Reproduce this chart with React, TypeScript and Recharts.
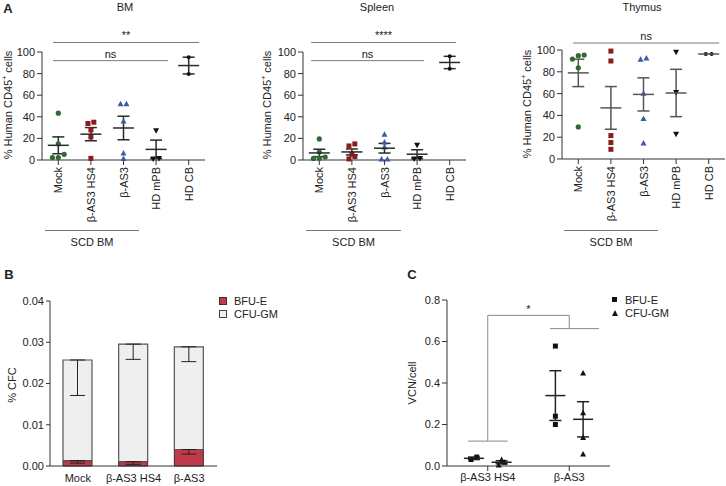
import React from 'react';
import { ComposedChart, BarChart, Bar, Scatter, XAxis, YAxis, ErrorBar, ReferenceLine } from 'recharts';

const FONT = '"Liberation Sans", Arial, Helvetica, sans-serif';
const INK = '#222';
const AX = '#333';

// ---- panel A: % human CD45+ cells per mouse ----
const groups = ['Mock', 'β-AS3 HS4', 'β-AS3', 'HD mPB', 'HD CB'];
const groupColors = ['#2f6a31', '#8a1c1f', '#3a5ba6', '#111111', '#111111'];
const groupShapes = ['circle', 'square', 'triangle', 'triangleDown', 'dot'];

const bmValues = [
  [43.4, 14.9, 5.3, 2.2, 2.2],
  [35.0, 33.8, 27.9, 21.4, 1.5],
  [52.1, 52.1, 36.0, 6.5, 1.5],
  [27.0, 1.5, 1.0],
  [95.2, 79.7],
];
const spleenValues = [
  [19.5, 7.4, 2.8, 1.5, 1.5],
  [14.9, 13.0, 5.3, 3.1, 1.0],
  [23.9, 16.7, 12.0, 1.0, 1.0],
  [13.6, 1.5, 1.0],
  [96.0, 84.6],
];
const thymusValues = [
  [95.4, 94.8, 91.7, 83.7, 29.4],
  [99.0, 89.9, 21.5, 15.1, 8.9],
  [92.6, 91.4, 60.4, 37.2, 14.7],
  [97.9, 61.1, 22.7],
  [96.3, 96.3],
];
const pctTicks = [0, 20, 40, 60, 80, 100];

// ---- panel B: CFC ----
const cfcGroups = ['Mock', 'β-AS3 HS4', 'β-AS3'];
const bfuE = [0.0013, 0.00105, 0.004];
const bfuESem = [0.0006, 0.00065, 0.0011];
const cfuGM = [0.0244, 0.0285, 0.0249];
const cfuGMSem = [0.0086, 0.0037, 0.0036];
const cfcTicks = [0, 0.01, 0.02, 0.03, 0.04];

// ---- panel C: VCN/cell ----
const vcnGroups = ['β-AS3 HS4', 'β-AS3'];
const vcnBfuE = [[0.031, 0.043], [0.578, 0.24, 0.2]];
const vcnCfuGM = [[0.031, 0.018, 0.005], [0.448, 0.257, 0.137, 0.058]];
const vcnTicks = [0, 0.2, 0.4, 0.6, 0.8];

function stats(vals: number[]) {
  const n = vals.length;
  const mean = vals.reduce((s, v) => s + v, 0) / n;
  const sd = n > 1 ? Math.sqrt(vals.reduce((s, v) => s + (v - mean) ** 2, 0) / (n - 1)) : 0;
  return { mean, sem: sd / Math.sqrt(n) };
}

// put points that would overlap side by side, centred on the column
function spread(vals: number[], gap: number) {
  const order = vals.map((_, i) => i).sort((a, b) => vals[a] - vals[b]);
  const offs: number[] = new Array(vals.length).fill(0);
  let row: number[] = [];
  const flush = () => {
    row.forEach((idx, k) => (offs[idx] = k - (row.length - 1) / 2));
    row = [];
  };
  order.forEach((idx) => {
    if (row.length && vals[idx] - vals[row[0]] > gap) flush();
    row.push(idx);
  });
  flush();
  return offs;
}

function marker(kind: string, color: string) {
  return (p: any) => {
    const { cx, cy } = p;
    if (cx == null || cy == null) return <g />;
    switch (kind) {
      case 'square':
        return <rect x={cx - 2.5} y={cy - 2.5} width={5} height={5} fill={color} />;
      case 'triangle':
        return <polygon points={`${cx},${cy - 3} ${cx + 3},${cy + 2.5} ${cx - 3},${cy + 2.5}`} fill={color} />;
      case 'triangleDown':
        return <polygon points={`${cx},${cy + 3} ${cx + 3},${cy - 2.5} ${cx - 3},${cy - 2.5}`} fill={color} />;
      case 'dot':
        return <circle cx={cx} cy={cy} r={2} fill={color} />;
      default:
        return <circle cx={cx} cy={cy} r={2.6} fill={color} />;
    }
  };
}

function meanLine(color: string, half: number) {
  return (p: any) =>
    p.cx == null ? <g /> : <line x1={p.cx - half} x2={p.cx + half} y1={p.cy} y2={p.cy} stroke={color} strokeWidth={1.5} />;
}

const RotTick = (props: any) => {
  const { x, y, payload } = props;
  return (
    <text x={x} y={y} transform={`rotate(-90 ${x} ${y})`} textAnchor="end" dominantBaseline="central" fontSize={11} fill={INK}>
      {groups[Math.floor(payload.value)]}
    </text>
  );
};

type Sig = { x1: number; x2: number; y: number; text: string };

function ScatterPanel({ left, plotTop, plotH, values, whisker, sig }: { left: number; plotTop: number; plotH: number; values: number[][]; whisker: string; sig: Sig[] }) {
  const yw = 42;
  const step = 0.18;
  return (
    <div style={{ position: 'absolute', left, top: 0 }}>
      <ComposedChart width={yw + 163 + 1} height={plotTop + plotH + 75} margin={{ top: plotTop, right: 1, bottom: 0, left: 0 }}>
        <XAxis type="number" dataKey="x" domain={[0, 5]} ticks={[0.5, 1.5, 2.5, 3.5, 4.5]} interval={0} tick={<RotTick />} tickSize={5} height={75} stroke={AX} />
        <YAxis type="number" dataKey="y" domain={[0, 100]} ticks={pctTicks} interval={0} width={yw} tickSize={5} stroke={AX} tick={{ fontSize: 11, fill: INK }} />
        {sig.map((s, i) => (
          <ReferenceLine
            key={i}
            segment={[{ x: s.x1, y: s.y }, { x: s.x2, y: s.y }]}
            ifOverflow="visible"
            stroke="#7a7a7a"
            label={{ value: s.text, position: 'top', fontSize: 11, fill: INK, offset: 3 }}
          />
        ))}
        {values.map((vals, g) => {
          const offs = spread(vals, 4);
          const data = vals.map((v, i) => ({ x: g + 0.5 + offs[i] * step, y: v }));
          return <Scatter key={g} data={data} shape={marker(groupShapes[g], groupColors[g])} isAnimationActive={false} />;
        })}
        {values.map((vals, g) => {
          const st = stats(vals);
          return (
            <Scatter key={'m' + g} data={[{ x: g + 0.5, y: st.mean, sem: st.sem }]} shape={meanLine(whisker, 10.5)} isAnimationActive={false}>
              <ErrorBar dataKey="sem" direction="y" width={6} stroke={whisker} strokeWidth={1.5} />
            </Scatter>
          );
        })}
      </ComposedChart>
    </div>
  );
}

const Txt = ({ x, y, children, size = 11, bold = false, rotate = false }: any) => (
  <div
    style={{
      position: 'absolute',
      left: x,
      top: y,
      transform: `translate(-50%, -50%)${rotate ? ' rotate(-90deg)' : ''}`,
      whiteSpace: 'nowrap',
      fontSize: size,
      fontWeight: bold ? 700 : 400,
      color: INK,
      lineHeight: 1,
    }}
  >
    {children}
  </div>
);

const GroupBar = ({ x1, x2, label }: { x1: number; x2: number; label: string }) => (
  <>
    <div style={{ position: 'absolute', left: x1, top: 230, width: x2 - x1, borderTop: '1px solid #777' }} />
    <Txt x={(x1 + x2) / 2} y={242}>{label}</Txt>
  </>
);

const CD45 = (
  <span>
    % Human CD45<sup style={{ fontSize: 7, verticalAlign: 'super', lineHeight: 0 }}>+</sup> cells
  </span>
);

export default function App() {
  const cfcData = cfcGroups.map((name, i) => ({
    name,
    bfu: bfuE[i],
    bfuErr: [bfuESem[i], 0],
    cfu: cfuGM[i],
    cfuErr: [cfuGMSem[i], 0],
  }));

  const sub = 0.17;
  const vstep = 0.07;
  const vcnSeries = [
    { vals: vcnBfuE, off: -sub, shape: 'square' },
    { vals: vcnCfuGM, off: sub, shape: 'triangle' },
  ];

  return (
    <div style={{ position: 'absolute', left: 0, top: 0, width: 726, height: 486, background: '#fff', fontFamily: FONT, overflow: 'hidden' }}>
      {/* panel A */}
      <Txt x={8} y={8} size={13} bold>A</Txt>
      <Txt x={125} y={7}>BM</Txt>
      <Txt x={377} y={7}>Spleen</Txt>
      <Txt x={642} y={7}>Thymus</Txt>
      <Txt x={8} y={105} rotate>{CD45}</Txt>
      <Txt x={267} y={105} rotate>{CD45}</Txt>
      <Txt x={527} y={104} rotate>{CD45}</Txt>

      <ScatterPanel
        left={0}
        plotTop={52}
        plotH={108}
        values={bmValues}
        whisker="#2a2a2a"
        sig={[
          { x1: 0.34, x2: 4.82, y: 108.8, text: '**' },
          { x1: 0.34, x2: 3.86, y: 92, text: 'ns' },
        ]}
      />
      <ScatterPanel
        left={261}
        plotTop={52}
        plotH={108}
        values={spleenValues}
        whisker="#2a2a2a"
        sig={[
          { x1: 0.25, x2: 4.69, y: 108.8, text: '****' },
          { x1: 0.25, x2: 3.71, y: 92, text: 'ns' },
        ]}
      />
      <ScatterPanel
        left={520}
        plotTop={50}
        plotH={109}
        values={thymusValues}
        whisker="#555"
        sig={[{ x1: 0.34, x2: 4.82, y: 106.4, text: 'ns' }]}
      />
      <GroupBar x1={45} x2={139} label="SCD BM" />
      <GroupBar x1={306} x2={401} label="SCD BM" />
      <GroupBar x1={564} x2={658} label="SCD BM" />

      {/* panel B */}
      <Txt x={9} y={274} size={13} bold>B</Txt>
      <Txt x={12} y={385} rotate>% CFC</Txt>
      <div style={{ position: 'absolute', left: 0, top: 290 }}>
        <BarChart width={222} height={196} data={cfcData} margin={{ top: 11, right: 5, bottom: 0, left: 0 }} barSize={29}>
          <XAxis dataKey="name" tickLine={false} stroke={AX} tick={{ fontSize: 11, fill: INK }} height={20} interval={0} />
          <YAxis
            type="number"
            domain={[0, 0.04]}
            ticks={cfcTicks}
            interval={0}
            tickFormatter={(v: number) => v.toFixed(2)}
            width={50}
            tickSize={4}
            stroke={AX}
            tick={{ fontSize: 11, fill: INK }}
          />
          <Bar dataKey="bfu" stackId="a" fill="#c03a4a" stroke="#3a2a2a" strokeWidth={1} isAnimationActive={false}>
            <ErrorBar dataKey="bfuErr" direction="y" width={7.5} stroke="#222" strokeWidth={1} />
          </Bar>
          <Bar dataKey="cfu" stackId="a" fill="#efefef" stroke="#555" strokeWidth={1.2} isAnimationActive={false}>
            <ErrorBar dataKey="cfuErr" direction="y" width={7.5} stroke="#222" strokeWidth={1} />
          </Bar>
        </BarChart>
      </div>
      <div style={{ position: 'absolute', left: 219, top: 295, fontSize: 11, color: INK, lineHeight: '13px' }}>
        <div>
          <span style={{ display: 'inline-block', width: 6, height: 6, background: '#c03a4a', border: '1px solid #333', marginRight: 7, verticalAlign: 0 }} />
          BFU-E
        </div>
        <div>
          <span style={{ display: 'inline-block', width: 6, height: 6, background: '#efefef', border: '1px solid #444', marginRight: 7, verticalAlign: 0 }} />
          CFU-GM
        </div>
      </div>

      {/* panel C */}
      <Txt x={412} y={274} size={13} bold>C</Txt>
      <Txt x={412} y={383} rotate>VCN/cell</Txt>
      <div style={{ position: 'absolute', left: 407, top: 290 }}>
        <ComposedChart width={213} height={196} margin={{ top: 10, right: 10, bottom: 0, left: 0 }}>
          <XAxis
            type="number"
            dataKey="x"
            domain={[0.5, 2.5]}
            ticks={[1, 2]}
            interval={0}
            tickFormatter={(v: number) => vcnGroups[Math.round(v) - 1]}
            tickSize={5}
            stroke={AX}
            tick={{ fontSize: 11, fill: INK }}
            height={20}
          />
          <YAxis
            type="number"
            dataKey="y"
            domain={[0, 0.8]}
            ticks={vcnTicks}
            interval={0}
            tickFormatter={(v: number) => v.toFixed(1)}
            width={40}
            tickSize={5}
            stroke={AX}
            tick={{ fontSize: 11, fill: INK }}
          />
          <ReferenceLine segment={[{ x: 1, y: 0.12 }, { x: 1, y: 0.726 }]} ifOverflow="visible" stroke="#888" />
          <ReferenceLine segment={[{ x: 0.755, y: 0.12 }, { x: 1.245, y: 0.12 }]} ifOverflow="visible" stroke="#888" />
          <ReferenceLine
            segment={[{ x: 1, y: 0.726 }, { x: 2, y: 0.726 }]}
            ifOverflow="visible"
            stroke="#888"
            label={{ value: '*', position: 'top', fontSize: 11, fill: INK, offset: 2 }}
          />
          <ReferenceLine segment={[{ x: 2, y: 0.726 }, { x: 2, y: 0.662 }]} ifOverflow="visible" stroke="#888" />
          <ReferenceLine segment={[{ x: 1.764, y: 0.662 }, { x: 2.365, y: 0.662 }]} ifOverflow="visible" stroke="#888" />
          {vcnSeries.map((s, si) =>
            s.vals.map((vals, g) => {
              const offs = spread(vals, 0.024);
              const data = vals.map((v, i) => ({ x: g + 1 + s.off + offs[i] * vstep, y: v }));
              return <Scatter key={`p${si}${g}`} data={data} shape={marker(s.shape, '#111')} isAnimationActive={false} />;
            })
          )}
          {vcnSeries.map((s, si) =>
            s.vals.map((vals, g) => {
              const st = stats(vals);
              return (
                <Scatter key={`m${si}${g}`} data={[{ x: g + 1 + s.off, y: st.mean, sem: st.sem }]} shape={meanLine('#222', 10)} isAnimationActive={false}>
                  <ErrorBar dataKey="sem" direction="y" width={6} stroke="#222" strokeWidth={1.5} />
                </Scatter>
              );
            })
          )}
        </ComposedChart>
      </div>
      <div style={{ position: 'absolute', left: 611, top: 294, fontSize: 11, color: INK, lineHeight: '13px' }}>
        <div>
          <svg width={8} height={8} style={{ marginRight: 6 }}>
            <rect x={1} y={1} width={5} height={5} fill="#111" />
          </svg>
          BFU-E
        </div>
        <div>
          <svg width={8} height={8} style={{ marginRight: 6 }}>
            <polygon points="4,1 7,7 1,7" fill="#111" />
          </svg>
          CFU-GM
        </div>
      </div>
    </div>
  );
}
